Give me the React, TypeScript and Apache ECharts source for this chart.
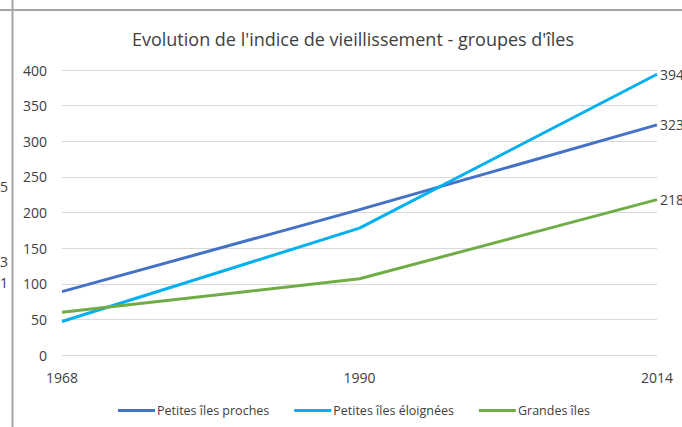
import React, { useEffect, useRef } from "react";
import * as echarts from "echarts";

const categories = ["1968", "1990", "2014"];
const petitesProches = [89, 204, 323];
const petitesEloignees = [47, 178, 394];
const grandesIles = [60, 107, 218];
const seriesNames = ["Petites îles proches", "Petites îles éloignées", "Grandes îles"];
const colors = ["#4472C4", "#00B0F0", "#70AD47"];
const titleText = "Evolution de l'indice de vieillissement - groupes d'îles";

const FONT = "'Open Sans', 'Noto Sans', sans-serif";

export default function App() {
  const ref = useRef<HTMLDivElement>(null);
  useEffect(() => {
    if (!ref.current) return;
    const chart = echarts.init(ref.current, undefined, { renderer: "svg" });
    const data = [petitesProches, petitesEloignees, grandesIles];
    chart.setOption({
      animation: false,
      backgroundColor: "#ffffff",
      title: {
        text: titleText,
        left: 348,
        textAlign: "center",
        top: 25,
        textStyle: { fontFamily: FONT, fontSize: 18, fontWeight: "normal", color: "#404040" },
      },
      legend: {
        left: 118,
        top: 404,
        padding: 0,
        itemWidth: 37,
        itemHeight: 3,
        itemGap: 25,
        icon: "rect",
        textStyle: { fontFamily: FONT, fontSize: 12.5, color: "#404040", padding: [0, 0, 0, -3] },
        data: seriesNames,
      },
      grid: { left: 62, right: 25, top: 70, bottom: 72, containLabel: false },
      xAxis: {
        type: "category",
        boundaryGap: false,
        data: categories,
        axisLine: { show: false },
        axisTick: { show: false },
        axisLabel: { fontFamily: FONT, fontSize: 14, color: "#404040", margin: 15 },
      },
      yAxis: {
        type: "value",
        min: 0,
        max: 400,
        interval: 50,
        axisLine: { show: false },
        axisTick: { show: false },
        splitLine: { lineStyle: { color: "#D9D9D9", width: 1 } },
        axisLabel: { fontFamily: FONT, fontSize: 14, color: "#404040", margin: 15 },
      },
      series: seriesNames.map((name, i) => ({
        name,
        type: "line",
        data: data[i],
        symbol: "none",
        lineStyle: { color: colors[i], width: 3 },
        itemStyle: { color: colors[i] },
        endLabel: {
          show: true,
          distance: 3,
          formatter: "{c}",
          fontFamily: FONT,
          fontSize: 14,
          color: "#404040",
        },
      })),
      graphic: [
        { type: "line", shape: { x1: 0, y1: 10, x2: 682, y2: 10 }, style: { stroke: "#A6A6A6", lineWidth: 2 } },
        { type: "line", shape: { x1: 12.5, y1: 0, x2: 12.5, y2: 427 }, style: { stroke: "#A6A6A6", lineWidth: 2 } },
        { type: "text", left: 0, top: 179, style: { text: "5", font: `14px ${FONT}`, fill: "#404040" } },
        { type: "text", left: 0, top: 254, style: { text: "3", font: `14px ${FONT}`, fill: "#404040" } },
        { type: "text", left: 0, top: 275, style: { text: "1", font: `14px ${FONT}`, fill: "#404040" } },
      ],
    });
    return () => chart.dispose();
  }, []);
  return <div ref={ref} style={{ position: "fixed", left: 0, top: 0, width: 682, height: 427 }} />;
}
